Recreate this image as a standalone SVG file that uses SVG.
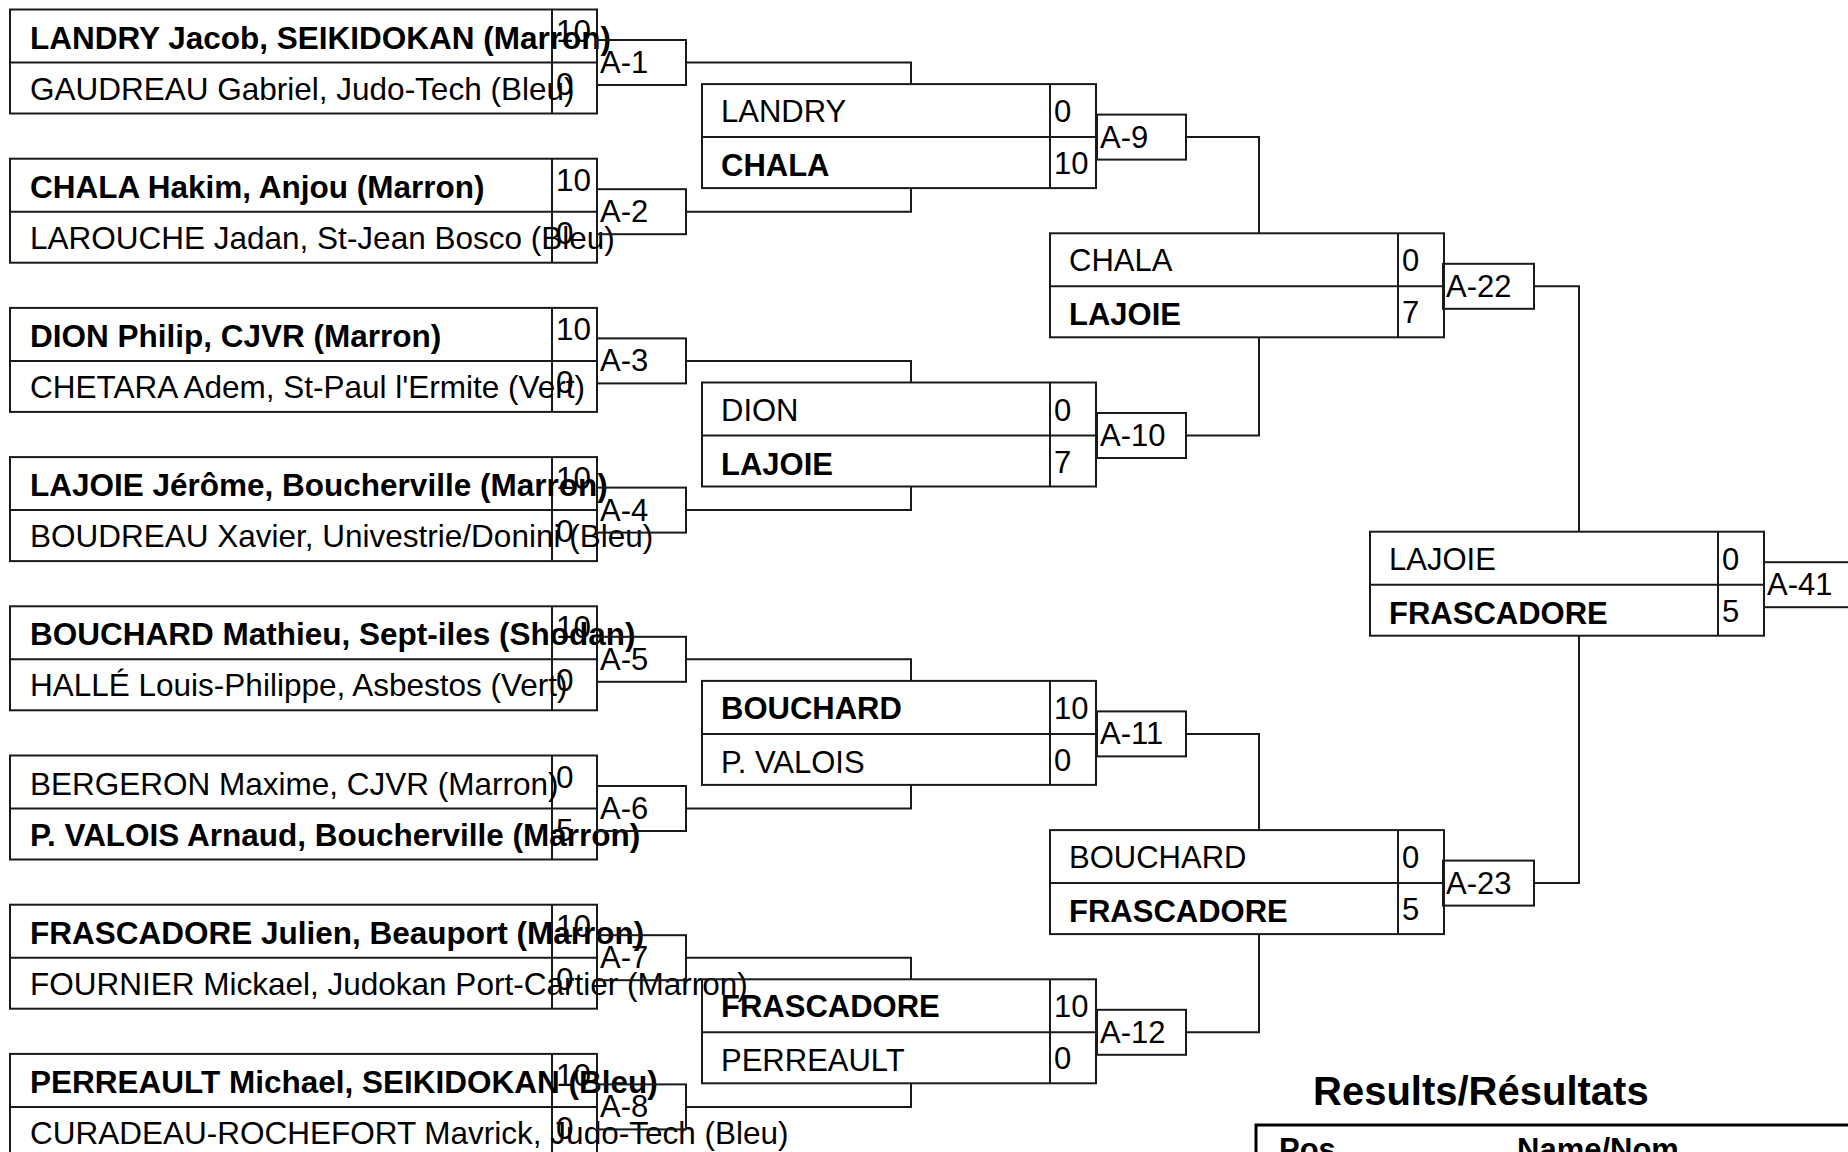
<svg xmlns="http://www.w3.org/2000/svg" width="1848" height="1152" viewBox="0 0 1848 1152">
<style>
.bx{fill:none;stroke:#1a1a1a;stroke-width:2}
.cn{fill:none;stroke:#1a1a1a;stroke-width:2}
.t{font-family:"Liberation Sans",Arial,sans-serif;font-size:31px;fill:#000}
.r1{font-size:31.5px}
.b{font-weight:bold}
.ttl{font-family:"Liberation Sans",Arial,sans-serif;font-size:40px;font-weight:bold;fill:#000}
.th{font-family:"Liberation Sans",Arial,sans-serif;font-size:31px;font-weight:bold;fill:#000}
</style>
<defs>
<g id="r1box"><rect class="bx" x="0" y="0" width="587" height="104"/><line class="bx" x1="0" y1="53" x2="587" y2="53"/><line class="bx" x1="542" y1="0" x2="542" y2="104"/></g>
<g id="rbox"><rect class="bx" x="0" y="0" width="394" height="104"/><line class="bx" x1="0" y1="53" x2="394" y2="53"/><line class="bx" x1="348" y1="0" x2="348" y2="104"/></g>
</defs>
<rect x="0" y="0" width="1848" height="1152" fill="#fff"/>

<g id="connectors">
<path class="cn" d="M686 62.5H911V84.1M686 211.7H911V188.1M686 360.9H911V382.5M686 510.1H911V486.5M686 659.3H911V680.9M686 808.5H911V784.9M686 957.7H911V979.3M686 1106.9H911V1083.3M1186 137.1H1259V233.3M1186 435.5H1259V337.3M1186 733.9H1259V830.1M1186 1032.3H1259V934.1M1534 286.3H1579V531.7M1534 883.1H1579V635.7"/>
</g>

<!-- Round 1 -->
<g id="m1" transform="translate(10 9.5)"><use href="#r1box"/><text class="t r1 b" x="20" y="39">LANDRY Jacob, SEIKIDOKAN (Marron)</text><text class="t r1" x="20" y="90">GAUDREAU Gabriel, Judo-Tech (Bleu)</text><text class="t r1" x="546" y="32">10</text><text class="t r1" x="546" y="85">0</text></g>
<g id="m2" transform="translate(10 158.7)"><use href="#r1box"/><text class="t r1 b" x="20" y="39">CHALA Hakim, Anjou (Marron)</text><text class="t r1" x="20" y="90">LAROUCHE Jadan, St-Jean Bosco (Bleu)</text><text class="t r1" x="546" y="32">10</text><text class="t r1" x="546" y="85">0</text></g>
<g id="m3" transform="translate(10 307.9)"><use href="#r1box"/><text class="t r1 b" x="20" y="39">DION Philip, CJVR (Marron)</text><text class="t r1" x="20" y="90">CHETARA Adem, St-Paul l'Ermite (Vert)</text><text class="t r1" x="546" y="32">10</text><text class="t r1" x="546" y="85">0</text></g>
<g id="m4" transform="translate(10 457.1)"><use href="#r1box"/><text class="t r1 b" x="20" y="39">LAJOIE Jérôme, Boucherville (Marron)</text><text class="t r1" x="20" y="90">BOUDREAU Xavier, Univestrie/Donini (Bleu)</text><text class="t r1" x="546" y="32">10</text><text class="t r1" x="546" y="85">0</text></g>
<g id="m5" transform="translate(10 606.3)"><use href="#r1box"/><text class="t r1 b" x="20" y="39">BOUCHARD Mathieu, Sept-iles (Shodan)</text><text class="t r1" x="20" y="90">HALLÉ Louis-Philippe, Asbestos (Vert)</text><text class="t r1" x="546" y="32">10</text><text class="t r1" x="546" y="85">0</text></g>
<g id="m6" transform="translate(10 755.5)"><use href="#r1box"/><text class="t r1" x="20" y="39">BERGERON Maxime, CJVR (Marron)</text><text class="t r1 b" x="20" y="90">P. VALOIS Arnaud, Boucherville (Marron)</text><text class="t r1" x="546" y="32">0</text><text class="t r1" x="546" y="85">5</text></g>
<g id="m7" transform="translate(10 904.7)"><use href="#r1box"/><text class="t r1 b" x="20" y="39">FRASCADORE Julien, Beauport (Marron)</text><text class="t r1" x="20" y="90">FOURNIER Mickael, Judokan Port-Cartier (Marron)</text><text class="t r1" x="546" y="32">10</text><text class="t r1" x="546" y="85">0</text></g>
<g id="m8" transform="translate(10 1053.9)"><use href="#r1box"/><text class="t r1 b" x="20" y="39">PERREAULT Michael, SEIKIDOKAN (Bleu)</text><text class="t r1" x="20" y="90">CURADEAU-ROCHEFORT Mavrick, Judo-Tech (Bleu)</text><text class="t r1" x="546" y="32">10</text><text class="t r1" x="546" y="85">0</text></g>

<!-- Match labels round 1 -->
<g id="A-1" transform="translate(597 40)"><rect class="bx" width="89" height="45"/><text class="t" x="3" y="33">A-1</text></g>
<g id="A-2" transform="translate(597 189.2)"><rect class="bx" width="89" height="45"/><text class="t" x="3" y="33">A-2</text></g>
<g id="A-3" transform="translate(597 338.4)"><rect class="bx" width="89" height="45"/><text class="t" x="3" y="33">A-3</text></g>
<g id="A-4" transform="translate(597 487.6)"><rect class="bx" width="89" height="45"/><text class="t" x="3" y="33">A-4</text></g>
<g id="A-5" transform="translate(597 636.8)"><rect class="bx" width="89" height="45"/><text class="t" x="3" y="33">A-5</text></g>
<g id="A-6" transform="translate(597 786)"><rect class="bx" width="89" height="45"/><text class="t" x="3" y="33">A-6</text></g>
<g id="A-7" transform="translate(597 935.2)"><rect class="bx" width="89" height="45"/><text class="t" x="3" y="33">A-7</text></g>
<g id="A-8" transform="translate(597 1084.4)"><rect class="bx" width="89" height="45"/><text class="t" x="3" y="33">A-8</text></g>

<!-- Round 2 -->
<g id="m9" transform="translate(702 84.1)"><use href="#rbox"/><text class="t" x="19" y="38">LANDRY</text><text class="t b" x="19" y="92">CHALA</text><text class="t" x="352" y="38">0</text><text class="t" x="352" y="90">10</text></g>
<g id="m10" transform="translate(702 382.5)"><use href="#rbox"/><text class="t" x="19" y="38">DION</text><text class="t b" x="19" y="92">LAJOIE</text><text class="t" x="352" y="38">0</text><text class="t" x="352" y="90">7</text></g>
<g id="m11" transform="translate(702 680.9)"><use href="#rbox"/><text class="t b" x="19" y="38">BOUCHARD</text><text class="t" x="19" y="92">P. VALOIS</text><text class="t" x="352" y="38">10</text><text class="t" x="352" y="90">0</text></g>
<g id="m12" transform="translate(702 979.3)"><use href="#rbox"/><text class="t b" x="19" y="38">FRASCADORE</text><text class="t" x="19" y="92">PERREAULT</text><text class="t" x="352" y="38">10</text><text class="t" x="352" y="90">0</text></g>

<g id="A-9" transform="translate(1097 114.6)"><rect class="bx" width="89" height="45"/><text class="t" x="3" y="33">A-9</text></g>
<g id="A-10" transform="translate(1097 413)"><rect class="bx" width="89" height="45"/><text class="t" x="3" y="33">A-10</text></g>
<g id="A-11" transform="translate(1097 711.4)"><rect class="bx" width="89" height="45"/><text class="t" x="3" y="33">A-11</text></g>
<g id="A-12" transform="translate(1097 1009.8)"><rect class="bx" width="89" height="45"/><text class="t" x="3" y="33">A-12</text></g>

<!-- Round 3 -->
<g id="m22" transform="translate(1050 233.3)"><use href="#rbox"/><text class="t" x="19" y="38">CHALA</text><text class="t b" x="19" y="92">LAJOIE</text><text class="t" x="352" y="38">0</text><text class="t" x="352" y="90">7</text></g>
<g id="m23" transform="translate(1050 830.1)"><use href="#rbox"/><text class="t" x="19" y="38">BOUCHARD</text><text class="t b" x="19" y="92">FRASCADORE</text><text class="t" x="352" y="38">0</text><text class="t" x="352" y="90">5</text></g>

<g id="A-22" transform="translate(1443 263.8)"><rect class="bx" width="91" height="45"/><text class="t" x="3" y="33">A-22</text></g>
<g id="A-23" transform="translate(1443 860.6)"><rect class="bx" width="91" height="45"/><text class="t" x="3" y="33">A-23</text></g>

<!-- Final -->
<g id="m41" transform="translate(1370 531.7)"><use href="#rbox"/><text class="t" x="19" y="38">LAJOIE</text><text class="t b" x="19" y="92">FRASCADORE</text><text class="t" x="352" y="38">0</text><text class="t" x="352" y="90">5</text></g>
<g id="A-41" transform="translate(1764 562.2)"><rect class="bx" width="91" height="45"/><text class="t" x="3" y="33">A-41</text></g>

<!-- Results -->
<g id="results">
<text class="ttl" x="1313" y="1105">Results/Résultats</text>
<rect x="1256" y="1125" width="620" height="60" fill="none" stroke="#000" stroke-width="3"/>
<text class="th" x="1279" y="1160">Pos.</text>
<text class="th" x="1517" y="1160">Name/Nom</text>
</g>
</svg>
